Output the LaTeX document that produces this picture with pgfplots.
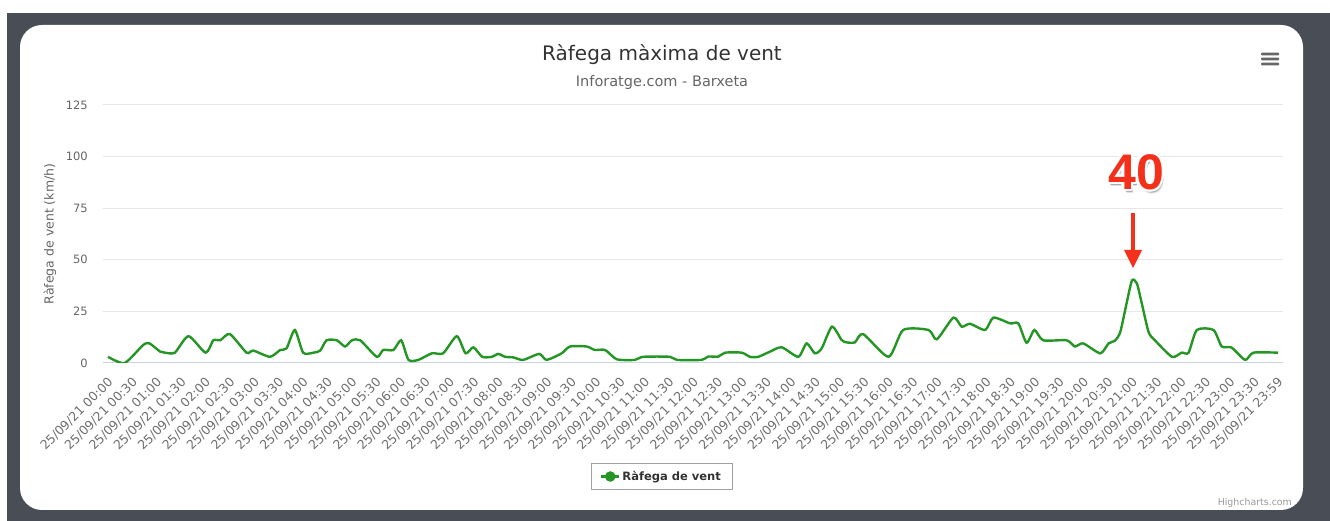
\documentclass[border=0pt]{standalone}
\usepackage{pgfplots}
\pgfplotsset{compat=1.18}
\usepackage{fontspec}
\setmainfont{DejaVu Sans}
\newfontfamily\arialfont{Liberation Sans}
\definecolor{bgdark}{HTML}{494D56}
\definecolor{txtdark}{HTML}{333333}
\definecolor{txtgray}{HTML}{666666}
\definecolor{xlabgray}{HTML}{707070}
\definecolor{credgray}{HTML}{999999}
\definecolor{gridc}{HTML}{E6E6E6}
\definecolor{axisc}{HTML}{CCD6EB}
\definecolor{linegreen}{HTML}{259625}
\definecolor{annred}{HTML}{F5301A}
\definecolor{legbord}{HTML}{A0A0A0}
\begin{document}
\begin{tikzpicture}[x=1pt,y=1pt]
\fill[white] (0,0) rectangle (1330,521);
\fill[bgdark] (7,0) rectangle (1330,508);
\fill[white,rounded corners=22pt] (20,11) rectangle (1303,496);
\node[font=\fontsize{20}{24}\selectfont, text=txtdark] at (662,466) {Ràfega màxima de vent};
\node[font=\fontsize{14.5}{17}\selectfont, text=txtgray] at (662,438) {Inforatge.com - Barxeta};
\foreach \yy in {457,462,467} \fill[txtgray, rounded corners=0.8pt] (1261,\yy-1.3) rectangle (1279,\yy+1.3);
\begin{axis}[
  at={(103pt,158pt)}, anchor=south west,
  scale only axis, width=1180pt, height=258pt,
  xmin=-0.1025, xmax=24.086, ymin=0, ymax=125,
  ytick={0,25,50,75,100,125},
  extra y ticks={0}, extra y tick labels={},
  extra y tick style={major grid style={draw=axisc, line width=1pt}},
  xtick={0,0.5,...,23.5,23.98333},
  xticklabels={25/09/21 00:00,25/09/21 00:30,25/09/21 01:00,25/09/21 01:30,25/09/21 02:00,25/09/21 02:30,25/09/21 03:00,25/09/21 03:30,25/09/21 04:00,25/09/21 04:30,25/09/21 05:00,25/09/21 05:30,25/09/21 06:00,25/09/21 06:30,25/09/21 07:00,25/09/21 07:30,25/09/21 08:00,25/09/21 08:30,25/09/21 09:00,25/09/21 09:30,25/09/21 10:00,25/09/21 10:30,25/09/21 11:00,25/09/21 11:30,25/09/21 12:00,25/09/21 12:30,25/09/21 13:00,25/09/21 13:30,25/09/21 14:00,25/09/21 14:30,25/09/21 15:00,25/09/21 15:30,25/09/21 16:00,25/09/21 16:30,25/09/21 17:00,25/09/21 17:30,25/09/21 18:00,25/09/21 18:30,25/09/21 19:00,25/09/21 19:30,25/09/21 20:00,25/09/21 20:30,25/09/21 21:00,25/09/21 21:30,25/09/21 22:00,25/09/21 22:30,25/09/21 23:00,25/09/21 23:30,25/09/21 23:59},
  /pgf/number format/assume math mode=true,
  ymajorgrids,
  major grid style={draw=gridc, line width=1pt},
  axis line style={draw=none},
  major tick length=0pt,
  tick style={draw=none},
  ticklabel style={text=txtgray},
  yticklabel style={font=\fontsize{11.5}{13}\selectfont, inner sep=0pt, anchor=east, xshift=-15pt},
  xticklabel style={font=\fontsize{12.5}{15}\selectfont, text=xlabgray, rotate=45, anchor=east, inner sep=0pt, yshift=-14pt, xshift=-10pt},
  ylabel={Ràfega de vent (km/h)},
  ylabel style={at={(axis description cs:-0.0449,0.5)}, anchor=center, font=\fontsize{12.5}{15}\selectfont, text=txtgray},
  legend style={at={(axis description cs:0.4733,-0.44)}, anchor=center, draw=legbord, line width=0.8pt, fill=white, font=\fontsize{11.5}{13}\selectfont\bfseries, text=txtdark, inner xsep=9pt, inner ysep=6pt},
  legend image code/.code={\draw[linegreen, line width=2.4pt] (0pt,0pt) -- (18pt,0pt); \fill[linegreen] (9pt,0pt) circle (4pt);},
]
\addplot[linegreen, line width=2.4pt, smooth, tension=0.4] coordinates {
(0.00,3) (0.34,0) (0.72,8.7) (0.85,9.5) (1.07,5.5) (1.17,5) (1.37,5) (1.65,13) (2.00,5) (2.16,11) (2.30,11) (2.50,14) (2.84,5) (2.98,6) (3.32,3) (3.53,6.3) (3.66,7.1) (3.83,16) (4.00,5) (4.21,5) (4.35,6) (4.48,11) (4.69,11) (4.86,8) (5.00,11) (5.17,11) (5.51,3) (5.64,6.3) (5.85,6.3) (6.01,11) (6.16,1.5) (6.36,1.5) (6.64,4.7) (6.87,4.7) (7.15,13) (7.33,4.7) (7.49,7.6) (7.67,3) (7.87,3) (8.00,4.4) (8.14,3) (8.31,2.7) (8.51,1.5) (8.84,4.4) (8.99,1.5) (9.30,4.7) (9.47,8) (9.81,8) (9.98,6.3) (10.19,6.3) (10.43,1.8) (10.80,1.5) (10.97,3) (11.52,3) (11.66,1.5) (12.17,1.5) (12.30,3.1) (12.51,3.1) (12.65,5) (12.99,5) (13.16,3) (13.33,3) (13.57,5.5) (13.81,7.6) (14.15,3) (14.32,9.5) (14.49,4.7) (14.63,7.1) (14.84,17.6) (15.04,11.1) (15.14,10) (15.31,10) (15.48,14) (16.00,3) (16.30,16) (16.82,16) (16.99,11.5) (17.33,22) (17.50,17.6) (17.67,19) (17.98,16) (18.15,22) (18.49,19.2) (18.66,19.2) (18.83,9.8) (18.99,16) (19.17,11) (19.65,11) (19.82,8) (19.99,9.5) (20.34,4.7) (20.51,9.5) (20.64,10.8) (20.75,15) (20.88,29) (20.99,40) (21.09,38.6) (21.19,29) (21.33,15) (21.46,11) (21.81,3) (22.01,5) (22.15,5) (22.32,16) (22.66,16) (22.83,8) (23.03,7.5) (23.31,1.5) (23.48,5) (23.98,5)
};
\addlegendentry{Ràfega de vent}
\end{axis}
% annotation
\foreach \dx/\dy in {1.5/-3,2.5/-4,2/-3.5} \node[font=\arialfont\bfseries\fontsize{50}{60}\selectfont, text=black, opacity=0.12, shift={(\dx,\dy)}] at (1136,349) {40};
\foreach \a in {0,30,...,330} \node[font=\arialfont\bfseries\fontsize{50}{60}\selectfont, text=white, shift={(\a:2.5)}] at (1136,349) {40};
\node[font=\arialfont\bfseries\fontsize{50}{60}\selectfont, text=annred] at (1136,349) {40};
\fill[annred] (1131.3,268) rectangle (1134.7,308);
\fill[annred] (1124,271) -- (1142,271) -- (1133,253) -- cycle;
\node[anchor=south east, font=\fontsize{9.4}{11}\selectfont, text=credgray, inner sep=0pt] at (1292,13) {Highcharts.com};
\pgfresetboundingbox
\path (0,0) rectangle (1330,521);
\end{tikzpicture}
\end{document}
